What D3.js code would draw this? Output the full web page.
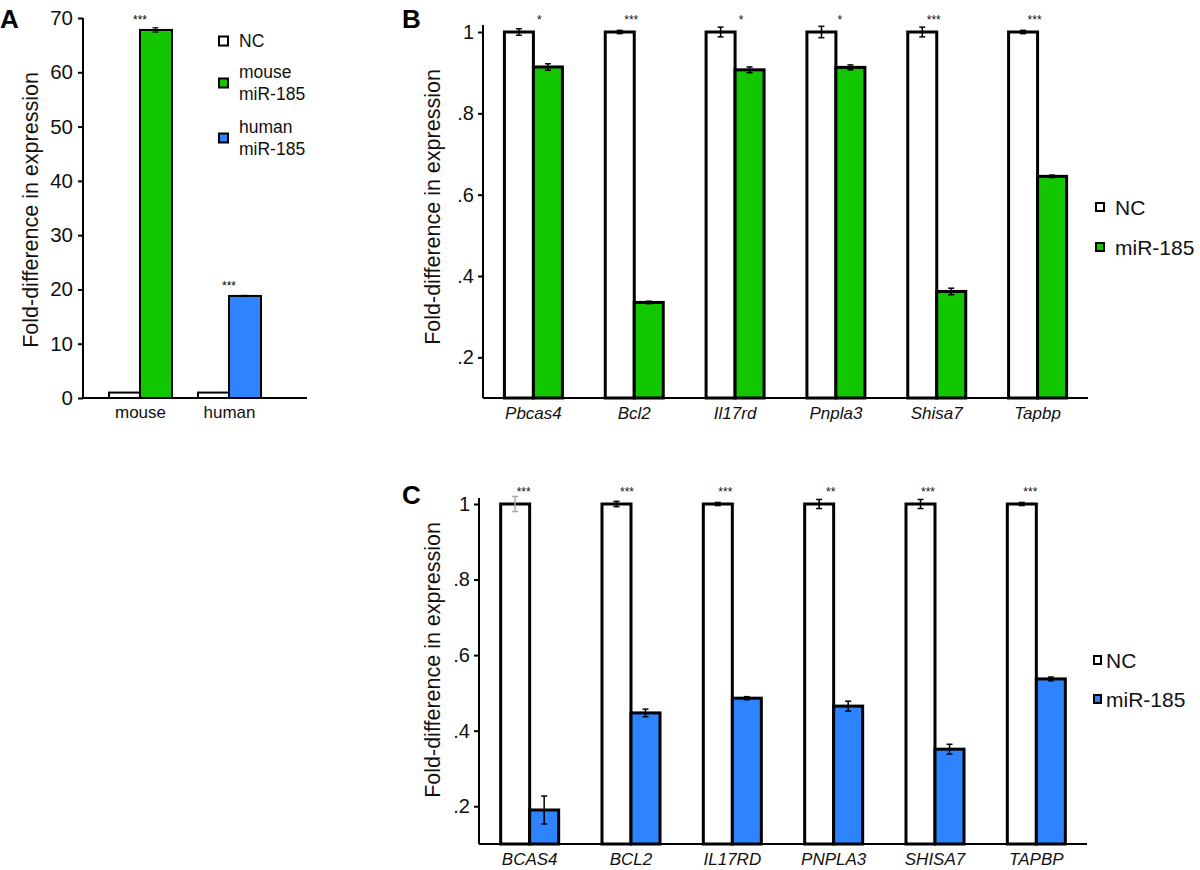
<!DOCTYPE html>
<html><head><meta charset="utf-8">
<script src="https://cdn.jsdelivr.net/npm/d3@7"></script>
<style>
body{margin:0;background:#fff;}
svg{font-family:"Liberation Sans",Arial,sans-serif;}
</style></head>
<body>
<svg id="chart" width="1200" height="870"></svg>
<script>
// ---------- DATA ----------
const GREEN = "#12c700";
const BLUE = "#2e84ff";

// Panel A
const catsA = ["mouse", "human"];
const ncA = [1.0, 1.0];
const ncErrA = [0.15, 0.15];
const mirA = [67.8, 18.8];
const mirErrA = [0.4, 0.1];
const mirColorA = [GREEN, BLUE];
const sigA = ["***", "***"];
const ticksA = [0, 10, 20, 30, 40, 50, 60, 70];

// Panel B
const genesB = ["Pbcas4", "Bcl2", "Il17rd", "Pnpla3", "Shisa7", "Tapbp"];
const ncB = [1, 1, 1, 1, 1, 1];
const ncErrB = [0.008, 0.004, 0.012, 0.014, 0.012, 0.004];
const mirB = [0.914, 0.335, 0.907, 0.913, 0.362, 0.645];
const mirErrB = [0.008, 0.003, 0.007, 0.006, 0.008, 0.003];
const sigB = ["*", "***", "*", "*", "***", "***"];

// Panel C
const genesC = ["BCAS4", "BCL2", "IL17RD", "PNPLA3", "SHISA7", "TAPBP"];
const ncC = [1, 1, 1, 1, 1, 1];
const ncErrC = [0.02, 0.007, 0.004, 0.012, 0.012, 0.004];
const mirC = [0.19, 0.447, 0.486, 0.465, 0.351, 0.537];
const mirErrC = [0.037, 0.01, 0.004, 0.013, 0.013, 0.005];
const sigC = ["***", "***", "***", "**", "***", "***"];

const ticksBC = [0.2, 0.4, 0.6, 0.8, 1];
const fmtBC = d => d === 1 ? "1" : "." + Math.round(d * 10);

const FONT = "Liberation Sans, Arial, sans-serif";
const svg = d3.select("#chart");

function errBar(g, x, yScale, v, e, cap, color, w) {
  const y1 = yScale(v - e), y2 = yScale(v + e);
  g.append("line").attr("x1", x).attr("x2", x).attr("y1", y1).attr("y2", y2)
    .attr("stroke", color).attr("stroke-width", w);
  [y1, y2].forEach(y => g.append("line").attr("x1", x - cap).attr("x2", x + cap)
    .attr("y1", y).attr("y2", y).attr("stroke", color).attr("stroke-width", w));
}

function panelLetter(t, x, y) {
  svg.append("text").attr("x", x).attr("y", y).text(t)
    .attr("font-size", 26).attr("font-weight", "bold").attr("fill", "#000");
}

// ---------- PANEL A ----------
(function () {
  const x0 = 83, x1 = 307, yBase = 398, yTop = 18;
  const y = d3.scaleLinear().domain([0, 70]).range([yBase, yTop]);
  const x = d3.scalePoint().domain(catsA).range([140, 229]);
  const bw = 31;
  const g = svg.append("g");

  const ya = g.append("g").attr("transform", `translate(${x0},0)`)
    .call(d3.axisLeft(y).tickValues(ticksA).tickSize(5).tickPadding(5));
  ya.select(".domain").attr("stroke-width", 2).attr("d", `M-0,${yTop}V${yBase}`);
  ya.selectAll(".tick line").attr("stroke-width", 2);
  ya.selectAll(".tick text").attr("font-size", 20.5).attr("fill", "#111").attr("font-family", FONT);

  catsA.forEach((c, i) => {
    const cx = x(c);
    g.append("rect").attr("x", cx - bw).attr("y", y(ncA[i])).attr("width", bw)
      .attr("height", yBase - y(ncA[i])).attr("fill", "#fff").attr("stroke", "#000").attr("stroke-width", 2);
    g.append("rect").attr("x", cx).attr("y", y(mirA[i])).attr("width", bw + 1)
      .attr("height", yBase - y(mirA[i])).attr("fill", mirColorA[i]).attr("stroke", "#000").attr("stroke-width", 2);
    errBar(g, cx + bw / 2, y, mirA[i], mirErrA[i], 3, "#000", 1.2);
    g.append("text").attr("x", cx).attr("y", y(mirA[i]) - 6).attr("text-anchor", "middle")
      .attr("font-size", 12).text(sigA[i]);
  });

  const xa = g.append("g").attr("transform", `translate(0,${yBase})`)
    .call(d3.axisBottom(x).tickSize(0).tickPadding(8));
  xa.select(".domain").attr("d", `M${x0},0H${x1}`).attr("stroke-width", 2);
  xa.selectAll(".tick text").attr("font-size", 17).attr("fill", "#111").attr("font-family", FONT);

  g.append("text").attr("transform", "translate(38,210) rotate(-90)").attr("text-anchor", "middle")
    .attr("font-size", 21.5).attr("fill", "#111").text("Fold-difference in expression");

  const leg = [
    { fill: "#fff", lines: ["NC"], y: 41 },
    { fill: GREEN, lines: ["mouse", "miR-185"], y: 83 },
    { fill: BLUE, lines: ["human", "miR-185"], y: 138 }
  ];
  leg.forEach(l => {
    g.append("rect").attr("x", 219).attr("y", l.y - 4.5).attr("width", 9).attr("height", 9)
      .attr("fill", l.fill).attr("stroke", "#000").attr("stroke-width", 2);
    l.lines.forEach((t, k) => {
      g.append("text").attr("x", 239).attr("y", l.y + 6 + (k - (l.lines.length - 1) / 2) * 22)
        .attr("font-size", 17.5).attr("fill", "#111").text(t);
    });
  });
  panelLetter("A", 0, 28);
})();

// ---------- PANELS B & C ----------
function panelBC(opts) {
  const { genes, nc, ncErr, mir, mirErr, sig, color, x0, x1, yBase, y1val, yAxisTop, ylabY, ncErrColors, starDx } = opts;
  const y = d3.scaleLinear().domain([0.1, 1]).range([yBase, y1val]);
  const x = d3.scaleBand().domain(genes).range([x0, x1]).padding(0);
  const bw = 29;
  const g = svg.append("g");

  const ya = g.append("g").attr("transform", `translate(${x0},0)`)
    .call(d3.axisLeft(y).tickValues(ticksBC).tickFormat(fmtBC).tickSize(5).tickPadding(4));
  ya.select(".domain").attr("stroke-width", 2).attr("d", `M0,${yAxisTop}V${yBase}`);
  ya.selectAll(".tick line").attr("stroke-width", 2);
  ya.selectAll(".tick text").attr("font-size", 20).attr("fill", "#111").attr("font-family", FONT);

  genes.forEach((gn, i) => {
    const cx = x(gn) + x.bandwidth() / 2;
    g.append("rect").attr("x", cx - bw).attr("y", y(nc[i])).attr("width", bw)
      .attr("height", yBase - y(nc[i])).attr("fill", "#fff").attr("stroke", "#000").attr("stroke-width", 3);
    g.append("rect").attr("x", cx).attr("y", y(mir[i])).attr("width", bw)
      .attr("height", yBase - y(mir[i])).attr("fill", color).attr("stroke", "#000").attr("stroke-width", 3);
    errBar(g, cx - bw / 2, y, nc[i], ncErr[i], 3, ncErrColors[i], 1.5);
    errBar(g, cx + bw / 2, y, mir[i], mirErr[i], 3, "#000", 1.5);
    g.append("text").attr("x", cx + starDx[i]).attr("y", y(1) - 8).attr("text-anchor", "middle")
      .attr("font-size", 12).attr("fill", "#111").text(sig[i]);
  });

  const xa = g.append("g").attr("transform", `translate(0,${yBase})`)
    .call(d3.axisBottom(x).tickSize(0).tickPadding(9));
  xa.select(".domain").attr("d", `M${x0},0H${x1}`).attr("stroke-width", 2);
  xa.selectAll(".tick text").attr("font-size", 17).attr("font-style", "italic").attr("fill", "#111")
    .attr("font-family", FONT);

  g.append("text").attr("transform", `translate(440,${ylabY}) rotate(-90)`).attr("text-anchor", "middle")
    .attr("font-size", 21.5).attr("fill", "#111").text("Fold-difference in expression");
  return g;
}

const gB = panelBC({
  genes: genesB, nc: ncB, ncErr: ncErrB, mir: mirB, mirErr: mirErrB, sig: sigB, color: GREEN,
  x0: 483, x1: 1088, yBase: 398, y1val: 32, yAxisTop: 25, ylabY: 207,
  ncErrColors: ["#000", "#000", "#000", "#000", "#000", "#000"],
  starDx: [6, -3, 6, 4, -3, -3]
});
[{ fill: "#fff", t: "NC", y: 207 }, { fill: GREEN, t: "miR-185", y: 247 }].forEach(l => {
  gB.append("rect").attr("x", 1096).attr("y", l.y - 4).attr("width", 8).attr("height", 8)
    .attr("fill", l.fill).attr("stroke", "#000").attr("stroke-width", 2);
  gB.append("text").attr("x", 1115).attr("y", l.y + 7.5).attr("font-size", 21).attr("fill", "#111").text(l.t);
});
panelLetter("B", 402, 28);

const gC = panelBC({
  genes: genesC, nc: ncC, ncErr: ncErrC, mir: mirC, mirErr: mirErrC, sig: sigC, color: BLUE,
  x0: 479, x1: 1087, yBase: 844, y1val: 504, yAxisTop: 498, ylabY: 660,
  ncErrColors: ["#aaa", "#000", "#000", "#000", "#000", "#000"],
  starDx: [-6, -4, -7, -3, -7, -6]
});
[{ fill: "#fff", t: "NC", y: 660 }, { fill: BLUE, t: "miR-185", y: 699 }].forEach(l => {
  gC.append("rect").attr("x", 1094).attr("y", l.y - 4).attr("width", 7).attr("height", 8)
    .attr("fill", l.fill).attr("stroke", "#000").attr("stroke-width", 2);
  gC.append("text").attr("x", 1106).attr("y", l.y + 7.5).attr("font-size", 21).attr("fill", "#111").text(l.t);
});
panelLetter("C", 402, 504);
</script>
</body></html>
